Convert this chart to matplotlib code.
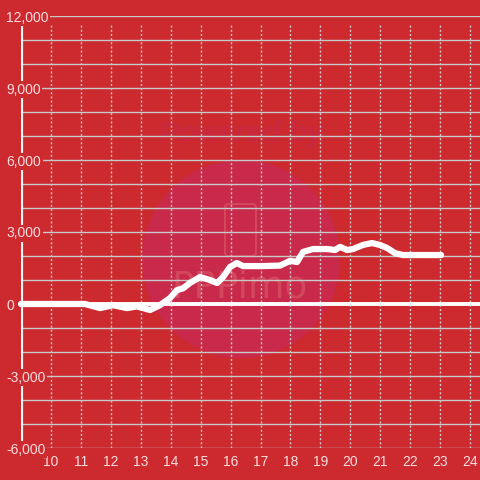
import numpy as np
import matplotlib.pyplot as plt
from matplotlib.patches import Circle, FancyBboxPatch

# valores (hora del dia, valor)
horas = [9.0, 11.14, 11.64, 12.07, 12.54, 12.87, 13.31, 13.64, 13.98, 14.21,
         14.41, 14.64, 14.98, 15.31, 15.55, 15.75, 15.98, 16.21, 16.41, 17.08,
         17.65, 17.99, 18.22, 18.42, 18.75, 19.22, 19.49, 19.66, 19.89, 20.09,
         20.42, 20.72, 20.99, 21.23, 21.49, 21.76, 23.03]
valores = [0, 0, -170, -50, -170, -100, -250, -50, 250, 580,
           650, 875, 1125, 1000, 875, 1125, 1540, 1710, 1580, 1580,
           1600, 1800, 1750, 2170, 2290, 2290, 2250, 2380, 2250, 2290,
           2460, 2540, 2460, 2330, 2120, 2040, 2040]
x_ticks = list(range(10, 25))
y_ticks = [-6000, -3000, 0, 3000, 6000, 9000, 12000]

fondo = '#cc2a2f'
texto = '#f6dede'
rejilla = '#c9c9c9'

fig = plt.figure(figsize=(4.8, 4.8), dpi=100)
fig.patch.set_facecolor(fondo)

ax = fig.add_axes([21 / 480, 32 / 480, 459 / 480, 432 / 480])
ax.set_facecolor('none')
ax.set_xlim(9.0, 24.33)
ax.set_ylim(-6000, 12000)
for s in ax.spines.values():
    s.set_visible(False)

# marca de agua (detras de todo)
tf = fig.transFigure
ax.add_patch(Circle((241 / 480, 1 - 259 / 480), 99 / 480, transform=tf,
                    facecolor='#c9294a', edgecolor='none', zorder=0.1, clip_on=False))
ax.add_patch(FancyBboxPatch((225 / 480, 1 - 256 / 480), 31 / 480, 52 / 480, transform=tf,
                            boxstyle='round,pad=0,rounding_size=0.008', facecolor='none',
                            edgecolor='#d3475d', lw=1.5, zorder=0.2, clip_on=False))
ax.text(241 / 480, 1 - 134 / 480, "Powered by", transform=tf, ha='center', va='center',
        fontsize=21, fontweight='bold', style='italic', color='#c8293f',
        family='Liberation Sans', zorder=0.2)
ax.text(240 / 480, 1 - 288 / 480, "PPPimo", transform=tf, ha='center', va='center',
        fontsize=27, color='#d3475d', family='DejaVu Sans', zorder=0.2)

# rejilla horizontal (cada 1000) y vertical punteada
for yv in np.arange(-6000, 12001, 1000):
    ax.axhline(yv, color=rejilla, lw=1.0, zorder=1)
ax.vlines(x_ticks, -6000, 11700, colors=rejilla, lw=1.0, linestyles=(0, (1.5, 1.5)), zorder=1)

# eje izquierdo y linea de cero
ax.axvline(9.0, color='#f4f4f4', lw=2.3, zorder=1.5)
ax.axhline(0, color='white', lw=2.8, zorder=1.5)

ax.plot(horas, valores, color='white', lw=4.5, solid_joinstyle='round',
        solid_capstyle='round', clip_on=False, zorder=3)

ax.set_xticks(x_ticks)
ax.set_xticklabels([str(v) for v in x_ticks])
ax.set_yticks(y_ticks)
ax.set_yticklabels([f"{v:,}" for v in y_ticks])
ax.tick_params(axis='both', length=0, colors=texto, labelsize=10)
ax.tick_params(axis='x', pad=5)
ax.tick_params(axis='y', pad=10.5)
for lab in ax.get_xticklabels() + ax.get_yticklabels():
    lab.set_fontfamily('Liberation Sans')
for lab in ax.get_yticklabels():
    lab.set_horizontalalignment('left')
    lab.set_bbox(dict(facecolor=fondo, edgecolor='none', pad=1.0))
    lab.set_zorder(4)

fig.savefig('out.png', dpi=100, facecolor=fondo)
